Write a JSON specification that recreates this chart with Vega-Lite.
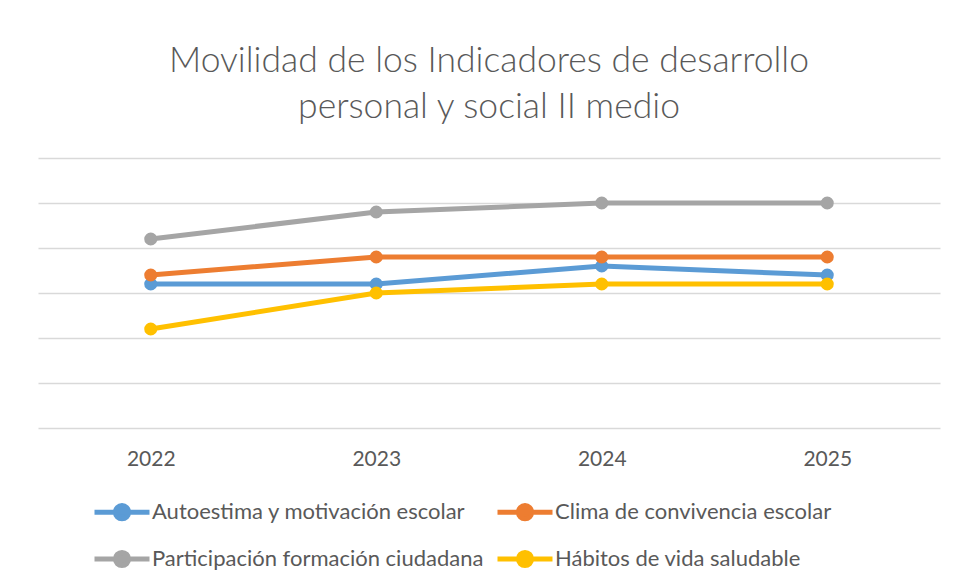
{
  "$schema": "https://vega.github.io/schema/vega-lite/v6.json",
  "width": 902,
  "height": 270,
  "autosize": {"type": "none"},
  "padding": {"left": 38, "top": 158, "right": 17, "bottom": 155},
  "background": "white",
  "title": {
    "text": ["Movilidad de los Indicadores de desarrollo", "personal y social II medio"],
    "font": "Lato",
    "fontSize": 35.5,
    "fontWeight": 300,
    "color": "#595959",
    "anchor": "middle",
    "offset": 33,
    "lineHeight": 46
  },
  "data": {
    "values": [
      {"serie": "Autoestima y motivación escolar", "year": "2022", "value": 66},
      {"serie": "Autoestima y motivación escolar", "year": "2023", "value": 66},
      {"serie": "Autoestima y motivación escolar", "year": "2024", "value": 68},
      {"serie": "Autoestima y motivación escolar", "year": "2025", "value": 67},
      {"serie": "Clima de convivencia escolar", "year": "2022", "value": 67},
      {"serie": "Clima de convivencia escolar", "year": "2023", "value": 69},
      {"serie": "Clima de convivencia escolar", "year": "2024", "value": 69},
      {"serie": "Clima de convivencia escolar", "year": "2025", "value": 69},
      {"serie": "Participación formación ciudadana", "year": "2022", "value": 71},
      {"serie": "Participación formación ciudadana", "year": "2023", "value": 74},
      {"serie": "Participación formación ciudadana", "year": "2024", "value": 75},
      {"serie": "Participación formación ciudadana", "year": "2025", "value": 75},
      {"serie": "Hábitos de vida saludable", "year": "2022", "value": 61},
      {"serie": "Hábitos de vida saludable", "year": "2023", "value": 65},
      {"serie": "Hábitos de vida saludable", "year": "2024", "value": 66},
      {"serie": "Hábitos de vida saludable", "year": "2025", "value": 66}
    ]
  },
  "encoding": {
    "x": {
      "field": "year",
      "type": "ordinal",
      "scale": {"type": "point", "padding": 0.5},
      "axis": {
        "title": null,
        "labelAngle": 0,
        "domain": false,
        "ticks": false,
        "grid": false,
        "labelPadding": 20,
        "labelFont": "Lato",
        "labelFontSize": 21,
        "labelColor": "#595959"
      }
    },
    "y": {
      "field": "value",
      "type": "quantitative",
      "scale": {"domain": [50, 80], "nice": false, "zero": false},
      "axis": {
        "title": null,
        "labels": false,
        "domain": false,
        "ticks": false,
        "values": [50, 55, 60, 65, 70, 75, 80],
        "gridColor": "#d9d9d9",
        "gridWidth": 1.5
      }
    },
    "color": {
      "field": "serie",
      "type": "nominal",
      "scale": {
        "domain": ["Autoestima y motivación escolar", "Clima de convivencia escolar", "Participación formación ciudadana", "Hábitos de vida saludable"],
        "range": ["#5B9BD5", "#ED7D31", "#A5A5A5", "#FFC000"]
      },
      "legend": {
        "title": null,
        "orient": "none",
        "legendX": 54,
        "legendY": 324,
        "direction": "horizontal",
        "columns": 2,
        "columnPadding": 3,
        "rowPadding": -18,
        "labelFont": "Lato",
        "labelFontSize": 22,
        "labelColor": "#595959",
        "labelOffset": 0,
        "symbolType": "M-1,0H1M-0.24,0A0.24,0.24,0,1,1,0.24,0A0.24,0.24,0,1,1,-0.24,0Z",
        "symbolSize": 3025,
        "symbolStrokeWidth": 5,
        "labelLimit": 500
      }
    }
  },
  "layer": [
    {"mark": {"type": "line", "strokeWidth": 5}},
    {"mark": {"type": "point", "filled": true, "size": 170, "opacity": 1}}
  ],
  "config": {"view": {"stroke": null}}
}
